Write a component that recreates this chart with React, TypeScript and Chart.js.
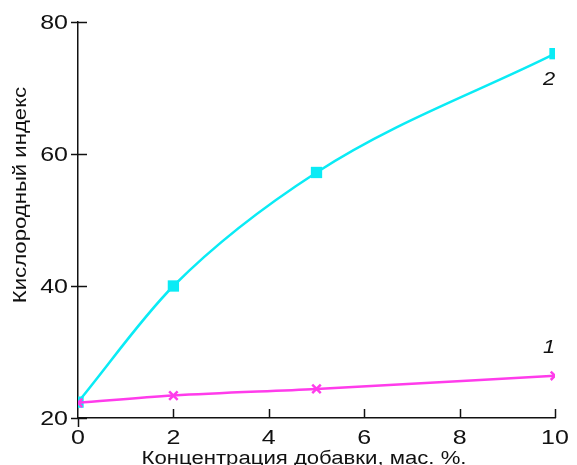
import React, { useEffect, useRef } from "react";
import { Chart, registerables } from "chart.js";

Chart.register(...registerables);

const concentrations = [0, 2, 5, 10];
const series1 = [22.3, 23.4, 24.4, 26.4];
const series2 = [22.4, 40.0, 57.2, 75.2];
const xTicks = [0, 2, 4, 6, 8, 10];
const yTicks = [20, 40, 60, 80];
const xTitle = "Концентрация добавки, мас. %.";
const yTitle = "Кислородный индекс";
const seriesLabels = ["1", "2"];

const FONT = "'Liberation Sans', Arial, Helvetica, sans-serif";

function stretchText(ctx: any, text: string, x: number, y: number, sx: number, rot = 0) {
  ctx.save();
  ctx.translate(x, y);
  if (rot) ctx.rotate(rot);
  ctx.scale(sx, 1);
  ctx.fillText(text, 0, 0);
  ctx.restore();
}

const decorPlugin = {
  id: "decor",
  afterDraw(chart: any) {
    const ctx = chart.ctx;
    const xs = chart.scales.x;
    const ys = chart.scales.y;
    const x0 = xs.getPixelForValue(0);
    const y0 = ys.getPixelForValue(20);
    ctx.save();
    ctx.strokeStyle = "#111";
    ctx.lineWidth = 1.5;
    yTicks.forEach((v) => {
      const py = Math.round(ys.getPixelForValue(v)) + 0.5;
      ctx.beginPath();
      ctx.moveTo(x0 - 7, py);
      ctx.lineTo(x0 + 9, py);
      ctx.stroke();
    });
    xTicks.forEach((v) => {
      const px = Math.round(xs.getPixelForValue(v)) + 0.5;
      ctx.beginPath();
      if (v === 0) {
        ctx.moveTo(px, y0);
        ctx.lineTo(px, y0 + 9);
      } else {
        ctx.moveTo(px, y0 - 9);
        ctx.lineTo(px, y0);
      }
      ctx.stroke();
    });
    ctx.fillStyle = "#111";
    // tick labels
    ctx.font = `20px ${FONT}`;
    ctx.textBaseline = "middle";
    ctx.textAlign = "center";
    xTicks.forEach((v) => {
      stretchText(ctx, String(v), xs.getPixelForValue(v), 438, 1.25);
    });
    ctx.textAlign = "right";
    yTicks.forEach((v) => {
      stretchText(ctx, String(v), x0 - 10, ys.getPixelForValue(v) + 1.5, 1.25);
    });
    // titles
    ctx.font = `18px ${FONT}`;
    ctx.textAlign = "center";
    stretchText(ctx, yTitle, 21, 195, 1.23, -Math.PI / 2);
    ctx.textBaseline = "alphabetic";
    stretchText(ctx, xTitle, 304, 464, 1.23);
    // series labels
    ctx.font = `italic 19px ${FONT}`;
    ctx.textBaseline = "middle";
    const xl = xs.getPixelForValue(10) - 6;
    stretchText(ctx, seriesLabels[0], xl, ys.getPixelForValue(series1[3]) - 28, 1.15);
    stretchText(ctx, seriesLabels[1], xl, ys.getPixelForValue(series2[3]) + 26, 1.15);
    ctx.restore();
  },
};

export default function App() {
  const ref = useRef<HTMLCanvasElement>(null);
  useEffect(() => {
    const canvas = ref.current!;
    const chart = new Chart(canvas, {
      type: "line",
      data: {
        datasets: [
          {
            label: seriesLabels[0],
            data: concentrations.map((x, i) => ({ x, y: series1[i] })),
            borderColor: "rgb(255,60,235)",
            backgroundColor: "rgb(255,60,235)",
            borderWidth: 2.5,
            pointStyle: "crossRot",
            pointRadius: 6,
            pointBorderWidth: 2.5,
            cubicInterpolationMode: "monotone",
          },
          {
            label: seriesLabels[1],
            data: concentrations.map((x, i) => ({ x, y: series2[i] })),
            borderColor: "rgb(10,235,245)",
            backgroundColor: "rgb(10,235,245)",
            borderWidth: 2.5,
            pointStyle: "rect",
            pointRadius: 8,
            pointBorderWidth: 0,
            cubicInterpolationMode: "monotone",
          },
        ],
      },
      options: {
        animation: false,
        responsive: false,
        maintainAspectRatio: false,
        layout: { padding: { left: 0, top: 22, right: 22, bottom: 0 } },
        plugins: { legend: { display: false }, tooltip: { enabled: false } },
        scales: {
          x: {
            type: "linear",
            min: 0,
            max: 10,
            afterFit: (s: any) => {
              s.height = 62;
            },
            afterBuildTicks: (s: any) => {
              s.ticks = xTicks.map((v) => ({ value: v }));
            },
            grid: { display: false, drawTicks: false },
            border: { display: true, color: "#111", width: 1.5 },
            ticks: { display: false },
          },
          y: {
            type: "linear",
            min: 20,
            max: 80,
            afterFit: (s: any) => {
              s.width = 78;
            },
            afterBuildTicks: (s: any) => {
              s.ticks = yTicks.map((v) => ({ value: v }));
            },
            grid: { display: false, drawTicks: false },
            border: { display: true, color: "#111", width: 1.5 },
            ticks: { display: false },
          },
        },
      },
      plugins: [decorPlugin],
    });
    return () => chart.destroy();
  }, []);
  return (
    <div style={{ position: "fixed", left: 0, top: 0, width: 577, height: 480 }}>
      <canvas ref={ref} width={577} height={480} style={{ width: 577, height: 480 }} />
    </div>
  );
}
